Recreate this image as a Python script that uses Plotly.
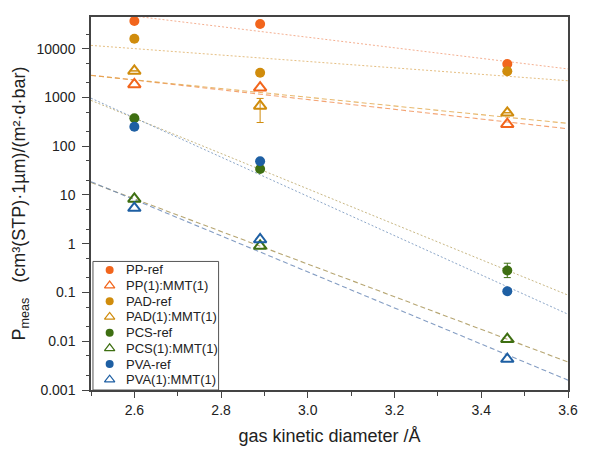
import numpy as np
import plotly.graph_objects as go

# gas kinetic diameters (Å)
diam = [2.6, 2.89, 3.46]

# measured permeabilities, cm³(STP)·1µm/(m²·d·bar)
pp_ref = [37000, 32000, 4850]
pp_mmt = [1850, 1590, 283]
pad_ref = [16000, 3200, 3450]
pad_mmt = [3500, 670, 485]
pcs_ref = [373, 34, 0.283]
pcs_mmt = [8.3, 0.9, 0.011]
pva_ref = [251, 49, 0.106]
pva_mmt = [5.4, 1.22, 0.0043]

# asymmetric error bars (upper, lower) where reported
pad_mmt_err_up = [0, 285, 0]
pad_mmt_err_dn = [0, 364, 0]
pcs_ref_err_up = [0, 0, 0.115]
pcs_ref_err_dn = [0, 0, 0.081]

ytick_vals = [0.001, 0.01, 0.1, 1, 10, 100, 1000, 10000]
ytick_text = ["0.001", "0.01", "0.1", "1", "10", "100", "1000", "10000"]
xtick_vals = [2.6, 2.8, 3.0, 3.2, 3.4, 3.6]
xtick_text = ["2.6", "2.8", "3.0", "3.2", "3.4", "3.6"]

x_range = [2.5, 3.6]

series = [
    ("PP-ref", pp_ref, "#F2651C", "rgba(240,150,110,0.75)", "ref"),
    ("PP(1):MMT(1)", pp_mmt, "#F2651C", "rgba(240,140,80,0.8)", "mmt"),
    ("PAD-ref", pad_ref, "#D08C0C", "rgba(220,170,90,0.75)", "ref"),
    ("PAD(1):MMT(1)", pad_mmt, "#D08C0C", "rgba(225,165,70,0.8)", "mmt"),
    ("PCS-ref", pcs_ref, "#3E6F12", "rgba(190,170,110,0.85)", "ref"),
    ("PCS(1):MMT(1)", pcs_mmt, "#3E6F12", "rgba(170,150,90,0.85)", "mmt"),
    ("PVA-ref", pva_ref, "#1E5FA3", "rgba(120,150,190,0.85)", "ref"),
    ("PVA(1):MMT(1)", pva_mmt, "#1E5FA3", "rgba(110,140,185,0.85)", "mmt"),
]

errors = {
    "PAD(1):MMT(1)": (pad_mmt_err_up, pad_mmt_err_dn),
    "PCS-ref": (pcs_ref_err_up, pcs_ref_err_dn),
}

# figure geometry (pixels)
W, H = 590, 455
ML, MR, MT, MB = 91, 13, 17, 55
PX0, PX1 = ML, W - MR
PY0, PY1 = MT, H - MB

fig = go.Figure()

# exponential fit lines: linear regression of log10(P) on diameter
xfit = np.linspace(x_range[0], x_range[1], 50)
for name, vals, mcol, lcol, kind in series:
    slope, icpt = np.polyfit(diam, np.log10(vals), 1)
    yfit = 10 ** (icpt + slope * xfit)
    fig.add_trace(go.Scatter(
        x=xfit, y=yfit, mode="lines", showlegend=False, hoverinfo="skip",
        line=dict(color=lcol, width=1.1 if kind == "mmt" else 1.0,
                  dash="5px,3px" if kind == "mmt" else "2px,2px"),
    ))

# measured points
for name, vals, mcol, lcol, kind in series:
    err = None
    if name in errors:
        up, dn = errors[name]
        err = dict(type="data", symmetric=False, array=up, arrayminus=dn,
                   color=mcol, thickness=1, width=3.5)
    if kind == "ref":
        marker = dict(symbol="circle", size=10, color=mcol, line=dict(width=0))
    else:
        marker = dict(symbol="triangle-up-open", size=11, color=mcol,
                      line=dict(width=2, color=mcol))
    fig.add_trace(go.Scatter(
        x=diam, y=vals, mode="markers", name=name, marker=marker, error_y=err,
        showlegend=False,
    ))

# compact legend box in the lower-left corner, laid out on a pixel overlay axis
leg_x0, leg_x1, leg_y0, leg_y1 = 93, 221, 268, PY1
row0, row_h = 276.7, 16.1
sym_x, txt_x = 110, 125
fig.add_shape(type="rect", xref="x2", yref="y2", x0=leg_x0, x1=leg_x1,
              y0=leg_y0, y1=leg_y1, line=dict(color="#555", width=1),
              fillcolor="white", layer="below")
for i, (name, vals, mcol, lcol, kind) in enumerate(series):
    ry = row0 + i * row_h
    if kind == "ref":
        marker = dict(symbol="circle", size=8, color=mcol, line=dict(width=0))
    else:
        marker = dict(symbol="triangle-up-open", size=9, color=mcol,
                      line=dict(width=1.2, color=mcol))
    fig.add_trace(go.Scatter(
        x=[sym_x], y=[ry], xaxis="x2", yaxis="y2", mode="markers",
        marker=marker, showlegend=False, hoverinfo="skip",
    ))
    fig.add_annotation(
        x=txt_x, y=ry, xref="x2", yref="y2", text=name, showarrow=False,
        xanchor="left", yanchor="middle",
        font=dict(family="Arial, Liberation Sans, sans-serif", size=13, color="#222"),
    )

axis_font = dict(family="Arial, Liberation Sans, sans-serif", size=14, color="#222")

fig.update_layout(
    width=W, height=H,
    margin=dict(l=ML, r=MR, t=MT, b=MB),
    paper_bgcolor="white", plot_bgcolor="white",
    font=dict(family="Arial, Liberation Sans, sans-serif", size=14, color="#222"),
    showlegend=False,
    xaxis=dict(
        range=x_range, tickvals=xtick_vals, ticktext=xtick_text,
        ticks="outside", ticklen=6, tickwidth=1.2, tickcolor="#444",
        showline=True, linecolor="#444", linewidth=1.5, mirror=True,
        showgrid=False, zeroline=False, tickfont=axis_font,
        minor=dict(ticks="outside", ticklen=4, tickcolor="#444", dtick=0.1, showgrid=False),
        title=dict(text="gas kinetic diameter /Å", font=dict(size=18, color="#222"), standoff=13),
    ),
    yaxis=dict(
        type="log", range=[-3, 4.65], tickvals=ytick_vals, ticktext=ytick_text,
        ticks="outside", ticklen=7, tickwidth=1.2, tickcolor="#444",
        ticklabelstandoff=4,
        showline=True, linecolor="#444", linewidth=1.5, mirror=True,
        showgrid=False, zeroline=False, tickfont=axis_font,
        minor=dict(ticks="outside", ticklen=3, tickcolor="#444", showgrid=False),
        title=dict(text="P<sub>meas</sub>   (cm³(STP)·1µm)/(m²·d·bar)",
                   font=dict(size=18, color="#222"), standoff=6),
    ),
    xaxis2=dict(overlaying="x", range=[PX0, PX1], visible=False, fixedrange=True),
    yaxis2=dict(overlaying="y", range=[PY1, PY0], visible=False, fixedrange=True),
)

fig.write_html("out.html")
